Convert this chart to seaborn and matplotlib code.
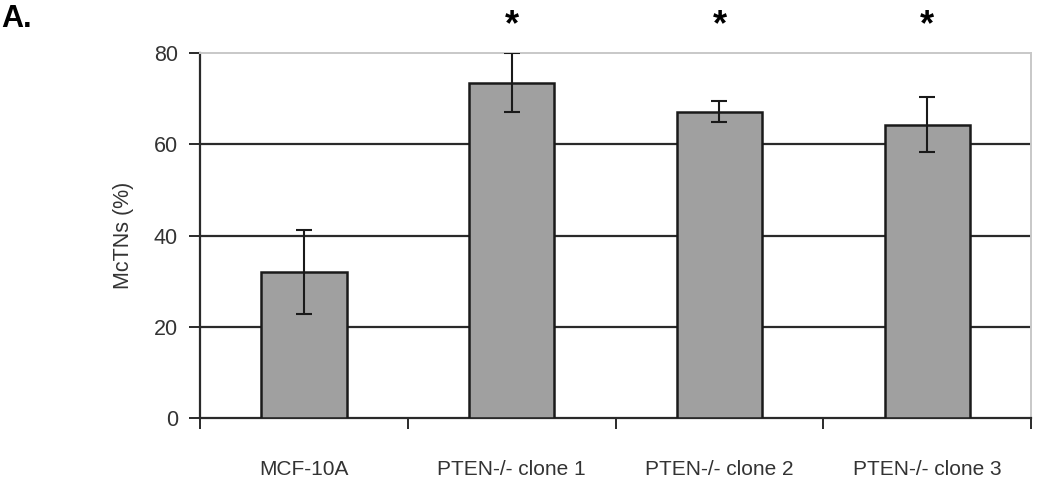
import matplotlib
matplotlib.use("Agg")
import matplotlib.pyplot as plt
import seaborn as sns
import pandas as pd
import numpy as np

categories = ["MCF-10A", "PTEN-/- clone 1", "PTEN-/- clone 2", "PTEN-/- clone 3"]
values = [32.0, 73.5, 67.1, 64.3]
errors = [9.3, 6.4, 2.3, 6.0]
significant = [False, True, True, True]
yticks = [0, 20, 40, 60, 80]

sns.set_theme(style="white")
plt.rcParams['font.family'] = ['Liberation Sans', 'DejaVu Sans']

df = pd.DataFrame({"cat": categories, "val": values})

fig = plt.figure(figsize=(10.5, 4.94), dpi=100)
ax = fig.add_axes([0.1905, 0.1538, 0.7915, 0.7389])

sns.barplot(data=df, x="cat", y="val", color="#a0a0a0", edgecolor="#1a1a1a",
            linewidth=1.8, width=0.41, errorbar=None, ax=ax, saturation=1, zorder=3)
ax.errorbar(x=np.arange(len(categories)), y=values, yerr=errors, fmt="none",
            ecolor="#1a1a1a", elinewidth=1.5, capsize=6, capthick=1.5, zorder=4)

ax.set_ylim(0, 80)
ax.set_xlim(-0.5, len(categories) - 0.5)
ax.set_yticks(yticks)
ax.set_yticklabels([str(t) for t in yticks], color="#333333", fontsize=15.5)
for y in yticks[1:-1]:
    ax.axhline(y, color="#2a2a2a", linewidth=1.6, zorder=1)

ax.set_xticks(np.arange(len(categories)))
ax.set_xticklabels(categories, color="#333333", fontsize=15)
ax.tick_params(axis="x", which="major", length=0, pad=30, bottom=True)
ax.set_xticks(np.arange(-0.5, len(categories)), minor=True)
ax.tick_params(axis="x", which="minor", length=8, width=1.4, color="#2a2a2a",
               direction="out", bottom=True)
ax.tick_params(axis="y", which="major", length=8, width=1.4, color="#2a2a2a",
               direction="out", pad=8, left=True)

ax.set_xlabel("")
ax.set_ylabel("McTNs (%)", color="#333333", fontsize=15.5, labelpad=14)

ax.spines["left"].set_color("#2a2a2a")
ax.spines["left"].set_linewidth(1.6)
ax.spines["bottom"].set_color("#2a2a2a")
ax.spines["bottom"].set_linewidth(1.6)
ax.spines["top"].set_color("#c8c8c8")
ax.spines["top"].set_linewidth(1.4)
ax.spines["right"].set_color("#c8c8c8")
ax.spines["right"].set_linewidth(1.4)

for i, s in enumerate(significant):
    if s:
        ax.text(i, 1.075, "*", transform=ax.get_xaxis_transform(), ha="center", va="center",
                fontsize=26, fontweight="bold", color="black")

fig.text(0.001, 0.962, "A.", fontsize=22, fontweight="bold", ha="left", va="center", color="black")

fig.savefig("out.png", dpi=100)
